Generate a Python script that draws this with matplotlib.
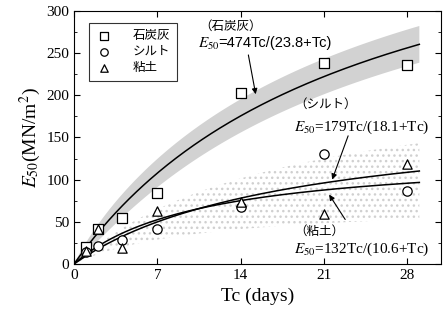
import numpy as np
import matplotlib
matplotlib.use("Agg")
import matplotlib.pyplot as plt

plt.rcParams['font.family'] = ['Liberation Serif', 'Noto Sans CJK JP']
plt.rcParams['mathtext.fontset'] = 'stix'

# curing time (days) and measured E50 (MN/m2)
tc = [1, 2, 4, 7, 14, 21, 28]
e_ash = [20, 42, 54, 84, 203, 238, 236]
e_silt = [14, 21, 28, 42, 68, 130, 86]
e_clay = [15, 42, 19, 63, 73, 59, 119]

# hyperbolic fits E50 = a*Tc/(b+Tc)
fit_ash = (474, 23.8)
fit_silt = (179, 18.1)
fit_clay = (132, 10.6)

names = ['石炭灰', 'シルト', '粘土']

def hyp(t, p):
    return p[0] * t / (p[1] + t)

t = np.linspace(0, 29, 200)

fig = plt.figure(figsize=(4.43, 3.2), dpi=100)
ax = fig.add_axes([0.167, 0.175, 0.828, 0.791])

# shaded scatter bands
w = 24 * t / (3 + t)
ax.fill_between(t, hyp(t, fit_ash) - w, hyp(t, fit_ash) + w,
                facecolor='#d2d2d2', edgecolor='none', zorder=1)
ax.fill_between(t, 0.55 * hyp(t, fit_clay), 1.3 * hyp(t, fit_silt),
                facecolor='none', edgecolor='#d0d0d0', hatch='...',
                linewidth=0, zorder=1)

ax.plot(t, hyp(t, fit_ash), color='black', lw=1.1, zorder=3)
ax.plot(t, hyp(t, fit_silt), color='black', lw=1.1, zorder=3)
ax.plot(t, hyp(t, fit_clay), color='black', lw=1.1, zorder=3)

mk = dict(facecolor='white', edgecolor='black', s=45, linewidth=0.9, zorder=4)
ax.scatter(tc, e_ash, marker='s', label=names[0], **mk)
ax.scatter(tc, e_silt, marker='o', label=names[1], **mk)
ax.scatter(tc, e_clay, marker='^', label=names[2], **mk)

leg = ax.legend(loc='upper left', bbox_to_anchor=(0.025, 0.975), fontsize=9,
                frameon=True, fancybox=False, edgecolor='black',
                handletextpad=1.7, borderpad=0.55, labelspacing=0.3,
                handlelength=1.2, scatterpoints=1, markerscale=0.8)
leg.get_frame().set_linewidth(0.8)
leg.set_zorder(5)

aprops = dict(arrowstyle='-|>', color='black', lw=0.8, mutation_scale=8)
ax.text(10.5, 281, '（石炭灰）', fontsize=9, va='center')
ax.text(10.4, 261, r'$E_{50}$', fontsize=11, va='center')
ax.text(12.15, 262, '=474Tc/(23.8+Tc)', fontsize=10.5, va='center',
        family='Liberation Sans')
ax.annotate('', xy=(15.3, 198), xytext=(14.6, 251), arrowprops=aprops)

ax.text(18.5, 189, '（シルト）', fontsize=9, va='center')
ax.text(18.5, 162, r'$E_{50}$=179Tc/(18.1+Tc)', fontsize=11, va='center')
ax.annotate('', xy=(21.6, 97), xytext=(23.1, 155), arrowprops=aprops)

ax.text(18.5, 38, '（粘土）', fontsize=9, va='center')
ax.text(18.5, 17, r'$E_{50}$=132Tc/(10.6+Tc)', fontsize=11, va='center')
ax.annotate('', xy=(21.3, 85), xytext=(22.9, 50), arrowprops=aprops)

ax.set_xlim(0, 30.8)
ax.set_ylim(0, 300)
ax.set_xticks([0, 7, 14, 21, 28])
ax.set_yticks(np.arange(0, 301, 50))
ax.set_yticks(np.arange(0, 301, 25), minor=True)
ax.tick_params(direction='in', top=True, right=True, labelsize=11, length=4)
ax.tick_params(which='minor', direction='in', right=True, length=2.5)
ax.set_xlabel('Tc (days)', fontsize=14)
ax.set_ylabel(r'$E_{50}$(MN/m$^2$)', fontsize=14, labelpad=2)

fig.savefig('out.png', dpi=100)
